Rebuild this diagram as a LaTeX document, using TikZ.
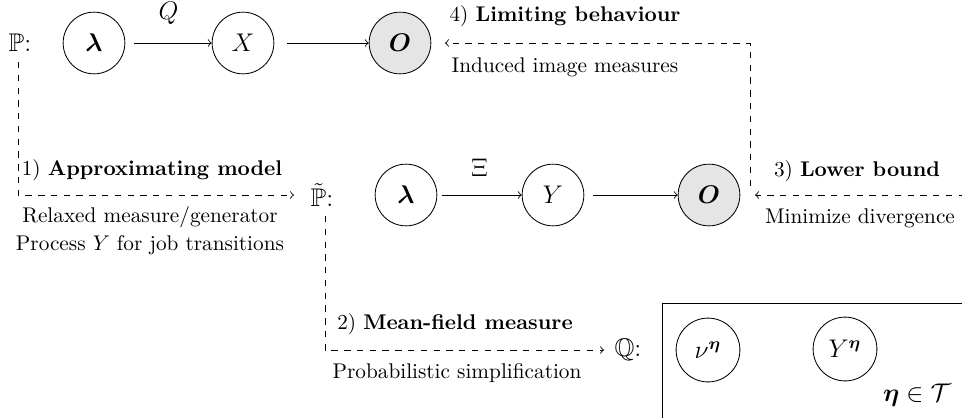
\documentclass[tikz,border=0pt]{standalone}
\usepackage{amsmath,amssymb,bm}
\usetikzlibrary{shapes.geometric,calc}
\begin{document}
\begin{tikzpicture}[x=0.47pt,y=-0.47pt,
  st/.style={circle,draw,minimum size=29pt,inner sep=0pt,font=\large},
  obs/.style={st,fill=gray!20},
  el/.style={circle,draw,minimum size=30pt,inner sep=0pt,font=\large},
  lab/.style={inner sep=0pt},
  dl/.style={dashed,->}]
\useasboundingbox (0,0) rectangle (962,417);
\clip (0,0) rectangle (962,417);
% row 1
\node[lab,font=\large] (P) at (20,43) {$\mathbb{P}$:};
\node[st] (l1) at (94,43) {$\bm{\lambda}$};
\node[st] (X1) at (243,43) {$X$};
\node[obs] (O1) at (400,43) {$\bm{O}$};
\draw[->,shorten <=4pt] (l1) -- node[above=5pt,font=\large] (Qlab) {$Q$} (X1);
\draw[->,shorten <=6pt] (X1) -- (O1);
% row 2
\node[lab,font=\large] (P2) at (322,195) {$\tilde{\mathbb{P}}$:};
\node[st] (l2) at (406,195) {$\bm{\lambda}$};
\node[st] (Y2) at (553,195) {$Y$};
\node[obs] (O2) at (709,195) {$\bm{O}$};
\draw[->,shorten <=2pt] (l2) -- node[above=5pt,font=\large] (Xilab) {$\Xi$} (Y2);
\draw[->,shorten <=4pt] (Y2) -- (O2);
% row 3
\node[lab,font=\large] (Qm) at (628,350) {$\mathbb{Q}$:};
\draw (1000,303) -- (662,303) -- (662,440);
\node[el] (nu) at (708,350) {$\nu^{\bm{\eta}}$};
\node[el] (Ye) at (845,349) {$Y^{\bm{\eta}}$};
\node[lab,font=\large] (etaT) at (917,395) {$\bm{\eta}\in\mathcal{T}$};
% dashed connectors
\coordinate (c1) at (18,62);
\coordinate (c1e) at (294,195);
\draw[dl] (c1) |- (c1e);
\coordinate (c2) at (325,216);
\coordinate (c2e) at (604,350);
\draw[dl] (c2) |- (c2e);
\coordinate (c3) at (965,195);
\coordinate (c3e) at (755,195);
\draw[dl] (c3) -- (c3e);
\coordinate (c4) at (750,186);
\coordinate (c4e) at (445,43);
\draw[dl] (c4) |- (c4e);
% labels
\node (t4) at (565,16) {4) \textbf{Limiting behaviour}};
\node (t4b) at (565,67) {Induced image measures};
\node (t3) at (857,171) {3) \textbf{Lower bound}};
\node (t3b) at (860,218) {Minimize divergence};
\node (t1) at (152,170) {1) \textbf{Approximating model}};
\node (t1b) at (150,217) {Relaxed measure/generator};
\node (t1c) at (150,245) {Process $Y$ for job transitions};
\node (t2) at (455,324) {2) \textbf{Mean-field measure}};
\node (t2b) at (457,373) {Probabilistic simplification};
\end{tikzpicture}
\end{document}
